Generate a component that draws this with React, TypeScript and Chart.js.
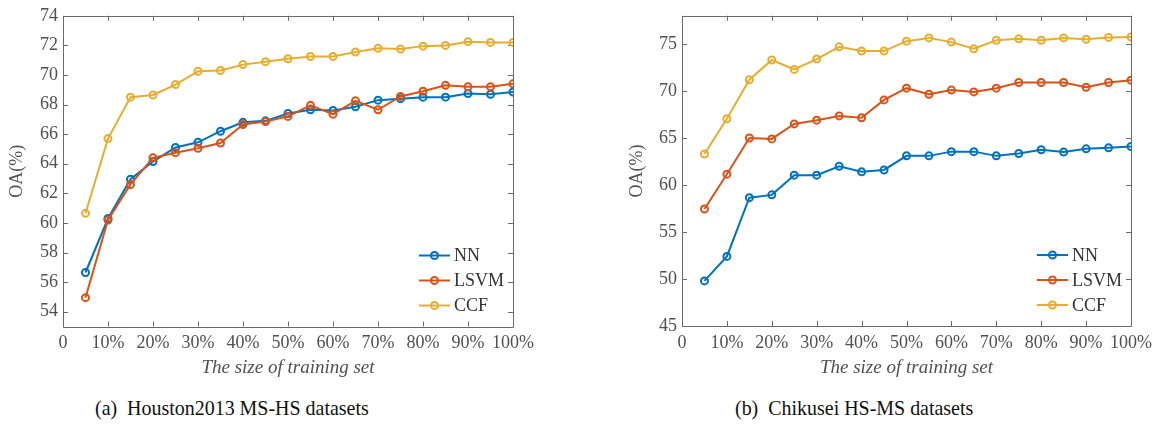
import React, { useEffect, useRef } from "react";
import { Chart, registerables } from "chart.js";

Chart.register(...registerables);

// ---- data ----
const trainSizes = [5, 10, 15, 20, 25, 30, 35, 40, 45, 50, 55, 60, 65, 70, 75, 80, 85, 90, 95, 100];
const xTicks = [0, 10, 20, 30, 40, 50, 60, 70, 80, 90, 100];
const seriesNames = ["NN", "LSVM", "CCF"];
const seriesColors = ["#0072BD", "#D95319", "#E8AD30"];

const houstonNN = [56.65, 60.3, 62.95, 64.15, 65.1, 65.45, 66.2, 66.8, 66.9, 67.4, 67.65, 67.6, 67.85, 68.3, 68.4, 68.5, 68.5, 68.75, 68.7, 68.85];
const houstonLSVM = [54.95, 60.2, 62.6, 64.4, 64.75, 65.05, 65.4, 66.65, 66.85, 67.2, 67.95, 67.35, 68.25, 67.65, 68.55, 68.9, 69.3, 69.2, 69.2, 69.4];
const houstonCCF = [60.65, 65.7, 68.5, 68.65, 69.35, 70.25, 70.3, 70.7, 70.9, 71.1, 71.25, 71.25, 71.55, 71.8, 71.75, 71.95, 72.0, 72.25, 72.2, 72.2];
const houstonYTicks = [54, 56, 58, 60, 62, 64, 66, 68, 70, 72, 74];

const chikuseiNN = [49.8, 52.4, 58.65, 58.95, 61.05, 61.05, 62.0, 61.4, 61.6, 63.1, 63.1, 63.55, 63.55, 63.1, 63.35, 63.75, 63.5, 63.85, 63.95, 64.1];
const chikuseiLSVM = [57.45, 61.15, 65.0, 64.9, 66.5, 66.9, 67.35, 67.15, 69.05, 70.3, 69.65, 70.1, 69.9, 70.3, 70.9, 70.9, 70.9, 70.4, 70.9, 71.15];
const chikuseiCCF = [63.3, 67.05, 71.2, 73.3, 72.3, 73.4, 74.7, 74.25, 74.25, 75.3, 75.65, 75.2, 74.5, 75.4, 75.55, 75.4, 75.65, 75.5, 75.7, 75.75];
const chikuseiYTicks = [45, 50, 55, 60, 65, 70, 75];

const captionA = "(a)\u2002Houston2013 MS-HS datasets";
const captionB = "(b)\u2002Chikusei HS-MS datasets";
const xTitle = "The size of training set";
const yTitle = "OA(%)";

const FONT = "'Liberation Serif', 'DejaVu Serif', serif";
const AXIS_COLOR = "#6a6a6a";
const TEXT_COLOR = "#505050";

const boxPlugin = {
  id: "boxTicks",
  beforeDatasetsDraw(chart: any) {
    const { ctx, chartArea } = chart;
    const { left, right, top, bottom } = chartArea;
    const xs = chart.scales.x;
    const ys = chart.scales.y;
    const tl = 5;
    ctx.save();
    ctx.strokeStyle = AXIS_COLOR;
    ctx.lineWidth = 1;
    ctx.beginPath();
    ctx.rect(Math.round(left) + 0.5, Math.round(top) + 0.5, Math.round(right - left), Math.round(bottom - top));
    for (const t of xs.ticks) {
      const px = Math.round(xs.getPixelForValue(t.value)) + 0.5;
      ctx.moveTo(px, bottom);
      ctx.lineTo(px, bottom - tl);
      ctx.moveTo(px, top);
      ctx.lineTo(px, top + tl);
    }
    for (const t of ys.ticks) {
      const py = Math.round(ys.getPixelForValue(t.value)) + 0.5;
      ctx.moveTo(left, py);
      ctx.lineTo(left + tl, py);
      ctx.moveTo(right, py);
      ctx.lineTo(right - tl, py);
    }
    ctx.stroke();
    ctx.restore();
  },
  afterDraw(chart: any) {
    const { ctx, chartArea } = chart;
    const offs = [71, 46, 21];
    ctx.save();
    chart.data.datasets.forEach((ds: any, i: number) => {
      const y = chartArea.bottom - offs[i];
      const x0 = chartArea.right - 94;
      const x1 = chartArea.right - 63;
      ctx.strokeStyle = ds.borderColor;
      ctx.lineWidth = 2;
      ctx.beginPath();
      ctx.moveTo(x0, y);
      ctx.lineTo(x1, y);
      ctx.stroke();
      ctx.beginPath();
      ctx.arc((x0 + x1) / 2, y, 3.5, 0, Math.PI * 2);
      ctx.stroke();
      ctx.fillStyle = "#333";
      ctx.font = `18px ${FONT}`;
      ctx.textBaseline = "middle";
      ctx.textAlign = "left";
      ctx.fillText(ds.label, chartArea.right - 59, y + 1);
    });
    ctx.restore();
  },
};

type Props = {
  series: number[][];
  yMin: number;
  yMax: number;
  yTicks: number[];
  width: number;
  height: number;
  yAxisWidth: number;
  xAxisHeight: number;
  padTop: number;
  padRight: number;
};

function LineChart(p: Props) {
  const ref = useRef<HTMLCanvasElement | null>(null);
  useEffect(() => {
    if (!ref.current) return;
    const chart = new Chart(ref.current, {
      type: "line",
      data: {
        datasets: p.series.map((vals, i) => ({
          label: seriesNames[i],
          data: trainSizes.map((x, j) => ({ x, y: vals[j] })),
          borderColor: seriesColors[i],
          backgroundColor: "rgba(0,0,0,0)",
          pointBackgroundColor: "rgba(255,255,255,0)",
          pointBorderColor: seriesColors[i],
          pointRadius: 3.5,
          pointBorderWidth: 2,
          borderWidth: 2,
          tension: 0,
          order: 3 - i,
        })),
      },
      options: {
        responsive: false,
        animation: false,
        layout: { padding: { left: 0, top: p.padTop, right: p.padRight, bottom: 0 } },
        plugins: { legend: { display: false }, tooltip: { enabled: false } },
        scales: {
          x: {
            type: "linear",
            min: 0,
            max: 100,
            afterBuildTicks: (s: any) => {
              s.ticks = xTicks.map((v) => ({ value: v }));
            },
            afterFit: (s: any) => {
              s.height = p.xAxisHeight;
            },
            ticks: {
              callback: (v: any) => (Number(v) === 0 ? "0" : `${v}%`),
              font: { family: FONT, size: 18 },
              color: TEXT_COLOR,
              padding: 6,
              maxRotation: 0,
              autoSkip: false,
            },
            grid: { display: false, drawTicks: false },
            border: { display: false },
            title: {
              display: true,
              text: xTitle,
              font: { family: FONT, size: 19, style: "italic" },
              color: TEXT_COLOR,
              padding: { top: 0, bottom: 1 },
            },
          },
          y: {
            type: "linear",
            min: p.yMin,
            max: p.yMax,
            afterBuildTicks: (s: any) => {
              s.ticks = p.yTicks.map((v) => ({ value: v }));
            },
            afterFit: (s: any) => {
              s.width = p.yAxisWidth;
            },
            ticks: {
              font: { family: FONT, size: 18 },
              color: TEXT_COLOR,
              padding: 5,
            },
            grid: { display: false, drawTicks: false },
            border: { display: false },
            title: {
              display: true,
              text: yTitle,
              font: { family: FONT, size: 18 },
              color: TEXT_COLOR,
              padding: { top: 6, bottom: 0 },
            },
          },
        },
      },
      plugins: [boxPlugin],
    } as any);
    return () => chart.destroy();
  }, []);
  return <canvas ref={ref} width={p.width} height={p.height} style={{ width: p.width, height: p.height, display: "block" }} />;
}

export default function App() {
  return (
    <div style={{ position: "absolute", left: 0, top: 0, width: 1158, height: 425, background: "#fff", overflow: "hidden" }}>
      <div style={{ position: "absolute", left: 0, top: 0 }}>
        <LineChart
          series={[houstonNN, houstonLSVM, houstonCCF]}
          yMin={53}
          yMax={74}
          yTicks={houstonYTicks}
          width={560}
          height={380}
          yAxisWidth={63}
          xAxisHeight={53.5}
          padTop={13}
          padRight={47}
        />
      </div>
      <div style={{ position: "absolute", left: 620, top: 0 }}>
        <LineChart
          series={[chikuseiNN, chikuseiLSVM, chikuseiCCF]}
          yMin={45}
          yMax={78}
          yTicks={chikuseiYTicks}
          width={538}
          height={380}
          yAxisWidth={62}
          xAxisHeight={54}
          padTop={6}
          padRight={27}
        />
      </div>
      <div style={{ position: "absolute", left: 95, top: 398, font: `21px ${FONT}`, lineHeight: "21px", color: "#111", whiteSpace: "nowrap", transform: "scaleX(0.95)", transformOrigin: "left center" }}>
        {captionA}
      </div>
      <div style={{ position: "absolute", left: 735, top: 398, font: `21px ${FONT}`, lineHeight: "21px", color: "#111", whiteSpace: "nowrap", transform: "scaleX(0.95)", transformOrigin: "left center" }}>
        {captionB}
      </div>
    </div>
  );
}
